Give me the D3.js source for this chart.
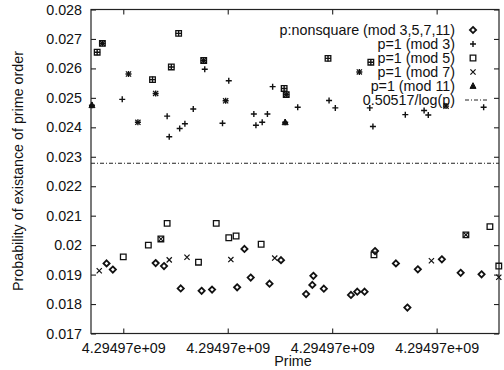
<!DOCTYPE html>
<html><head><meta charset="utf-8">
<script src="https://cdn.jsdelivr.net/npm/d3@7"></script>
<style>
html,body{margin:0;padding:0;background:#fff;}
svg text{font-family:"Liberation Sans",Arial,Helvetica,sans-serif;fill:#111;}
</style></head>
<body><svg id="c" width="504" height="370"></svg>
<script>
// ---- data (x = prime offset from first labelled tick; y = probability) ----
const xTickValues = [0, 100, 200, 300];
const xTickLabels = ["4.29497e+09", "4.29497e+09", "4.29497e+09", "4.29497e+09"];
const yTickValues = [0.017, 0.018, 0.019, 0.020, 0.021, 0.022, 0.023, 0.024, 0.025, 0.026, 0.027, 0.028];
const yTickLabels = ["0.017", "0.018", "0.019", "0.02", "0.021", "0.022", "0.023", "0.024", "0.025", "0.026", "0.027", "0.028"];

const nonsquareX = [-16, -10, 31, 39, 55, 75, 85, 109, 116, 122, 140, 151, 175, 181, 182, 192, 218, 224, 231, 241, 261, 272, 282, 305, 323, 343];
const nonsquareY = [0.01938, 0.01917, 0.01939, 0.01929, 0.01853, 0.01845, 0.01849, 0.01857, 0.01987, 0.0189, 0.01869, 0.01949, 0.01834, 0.01865, 0.01896, 0.01852, 0.01831, 0.01842, 0.01842, 0.0198, 0.01938, 0.01788, 0.01918, 0.01952, 0.01906, 0.01901];

const mod3X = [-25, -20, -30, -1, 5, 14, 28, 31, 42, 44, 46, 53, 54, 59, 67, 77, 78, 95, 98, 101, 125, 127, 133, 138, 143, 154, 156, 155, 167, 196, 197, 203, 226, 237, 236, 239, 270, 288, 292, 309, 345];
const mod3Y = [0.02655, 0.02685, 0.02475, 0.02495, 0.02581, 0.02417, 0.02562, 0.02515, 0.02438, 0.02368, 0.02605, 0.02719, 0.02396, 0.02412, 0.02462, 0.02627, 0.02597, 0.02414, 0.0249, 0.02558, 0.02445, 0.02407, 0.02417, 0.02445, 0.02538, 0.02532, 0.02511, 0.02417, 0.02468, 0.02634, 0.02491, 0.02466, 0.02588, 0.02621, 0.02466, 0.02403, 0.02443, 0.02457, 0.02442, 0.02472, 0.02468];

const mod5X = [-25, -20, 28, 46, 53, 77, 154, 156, 196, 237, 0, 24, 36, 42, 72, 89, 101, 108, 132, 240, 328, 351, 359.5];
const mod5Y = [0.02655, 0.02685, 0.02562, 0.02605, 0.02719, 0.02627, 0.02532, 0.02511, 0.02634, 0.02621, 0.0196, 0.02, 0.02021, 0.02074, 0.01942, 0.02074, 0.02025, 0.02031, 0.02003, 0.01967, 0.02035, 0.02063, 0.01929];

const mod7X = [-20, 5, 14, 31, 77, 98, 156, 226, 309, -23, 36, 44, 61, 103, 145, 295, 328, 359.5];
const mod7Y = [0.02685, 0.02581, 0.02417, 0.02515, 0.02627, 0.0249, 0.02511, 0.02588, 0.02472, 0.01913, 0.02021, 0.0195, 0.01959, 0.01951, 0.01956, 0.01947, 0.02035, 0.01891];

const mod11X = [-30, 155];
const mod11Y = [0.02475, 0.02417];

const boundValue = 0.02278; // 0.50517/log(p)

const legendLabels = ["p:nonsquare (mod 3,5,7,11)", "p=1 (mod 3)", "p=1 (mod 5)", "p=1 (mod 7)", "p=1 (mod 11)", "0.50517/log(p)"];
const legendSymbols = ["diamond", "plus", "square", "cross", "triangle", "line"];

// ---- drawing ----
const svg = d3.select("#c");
const L = 91, R = 499, T = 9.5, B = 333.5;
const x = d3.scaleLinear().domain([-30.9, 359.7]).range([L, R]);
const y = d3.scaleLinear().domain([0.017, 0.028]).range([B, T]);

const fs = 14.3;

function symPath(type, s) {
  const p = d3.path();
  if (type === "diamond") { p.moveTo(0, -s); p.lineTo(s, 0); p.lineTo(0, s); p.lineTo(-s, 0); p.closePath(); }
  else if (type === "plus") { p.moveTo(-s, 0); p.lineTo(s, 0); p.moveTo(0, -s); p.lineTo(0, s); }
  else if (type === "square") { p.rect(-s, -s, 2 * s, 2 * s); }
  else if (type === "cross") { p.moveTo(-s, -s); p.lineTo(s, s); p.moveTo(-s, s); p.lineTo(s, -s); }
  else if (type === "triangle") { p.moveTo(0, -s * 1.1); p.lineTo(s, s * 0.8); p.lineTo(-s, s * 0.8); p.closePath(); }
  return p.toString();
}
const symStyle = {
  diamond: {size: 3.1, sw: 1.8, fill: "none"},
  plus: {size: 3.0, sw: 1.4, fill: "none"},
  square: {size: 2.8, sw: 1.3, fill: "none"},
  cross: {size: 2.6, sw: 1.2, fill: "none"},
  triangle: {size: 3.0, sw: 1.0, fill: "#111"}
};
function drawSym(g, type, cx, cy) {
  const st = symStyle[type];
  g.append("path").attr("d", symPath(type, st.size))
    .attr("transform", `translate(${cx},${cy})`)
    .attr("fill", st.fill).attr("stroke", "#111").attr("stroke-width", st.sw);
}

// frame
svg.append("rect").attr("x", L).attr("y", T).attr("width", R - L).attr("height", B - T)
  .attr("fill", "none").attr("stroke", "#222").attr("stroke-width", 1.2);

// axes with inward ticks
const gx = svg.append("g").attr("transform", `translate(0,${B})`)
  .call(d3.axisBottom(x).tickValues(xTickValues).tickSizeInner(-5).tickSizeOuter(0).tickPadding(10)
    .tickFormat((d, i) => xTickLabels[i]));
const gxt = svg.append("g").attr("transform", `translate(0,${T})`)
  .call(d3.axisTop(x).tickValues(xTickValues).tickSizeInner(-5).tickSizeOuter(0).tickFormat(""));
const gy = svg.append("g").attr("transform", `translate(${L},0)`)
  .call(d3.axisLeft(y).tickValues(yTickValues).tickSizeInner(-5).tickSizeOuter(0).tickPadding(10)
    .tickFormat((d, i) => yTickLabels[i]));
const gyr = svg.append("g").attr("transform", `translate(${R},0)`)
  .call(d3.axisRight(y).tickValues(yTickValues).tickSizeInner(-5).tickSizeOuter(0).tickFormat(""));
[gx, gxt, gy, gyr].forEach(g => {
  g.select(".domain").remove();
  g.selectAll("line").attr("stroke", "#222").attr("stroke-width", 1.1);
  g.selectAll("text").attr("font-size", fs).attr("fill", "#111")
    .attr("font-family", '"Liberation Sans",Arial,sans-serif');
});
gx.selectAll("text").attr("dy", null).attr("y", 19);
gy.selectAll("text").attr("x", -9);

// axis titles
svg.append("text").attr("x", 293).attr("y", 366).attr("text-anchor", "middle")
  .attr("font-size", fs).text("Prime");
svg.append("text").attr("transform", "translate(22.5,171) rotate(-90)").attr("text-anchor", "middle")
  .attr("font-size", fs).text("Probability of existance of prime order");

// bound line
svg.append("line").attr("x1", L).attr("x2", R).attr("y1", y(boundValue)).attr("y2", y(boundValue))
  .attr("stroke", "#222").attr("stroke-width", 1).attr("stroke-dasharray", "4,2,1,2");

// points
const pts = svg.append("g");
nonsquareX.forEach((d, i) => drawSym(pts, "diamond", x(d), y(nonsquareY[i])));
mod5X.forEach((d, i) => drawSym(pts, "square", x(d), y(mod5Y[i])));
mod3X.forEach((d, i) => drawSym(pts, "plus", x(d), y(mod3Y[i])));
mod7X.forEach((d, i) => drawSym(pts, "cross", x(d), y(mod7Y[i])));
mod11X.forEach((d, i) => drawSym(pts, "triangle", x(d), y(mod11Y[i])));

// legend
const legRowY = d3.scaleLinear().domain([0, 1]).range([30, 44]);
const leg = svg.append("g");
legendLabels.forEach((lab, i) => {
  const ry = legRowY(i);
  leg.append("text").attr("x", 455).attr("y", ry).attr("dy", "0.35em").attr("text-anchor", "end")
    .attr("font-size", fs).text(lab);
  if (legendSymbols[i] === "line") {
    leg.append("line").attr("x1", 465).attr("x2", 489).attr("y1", ry).attr("y2", ry)
      .attr("stroke", "#222").attr("stroke-width", 1).attr("stroke-dasharray", "4,2,1,2");
  } else {
    drawSym(leg, legendSymbols[i], 473, ry);
  }
});
</script></body></html>
